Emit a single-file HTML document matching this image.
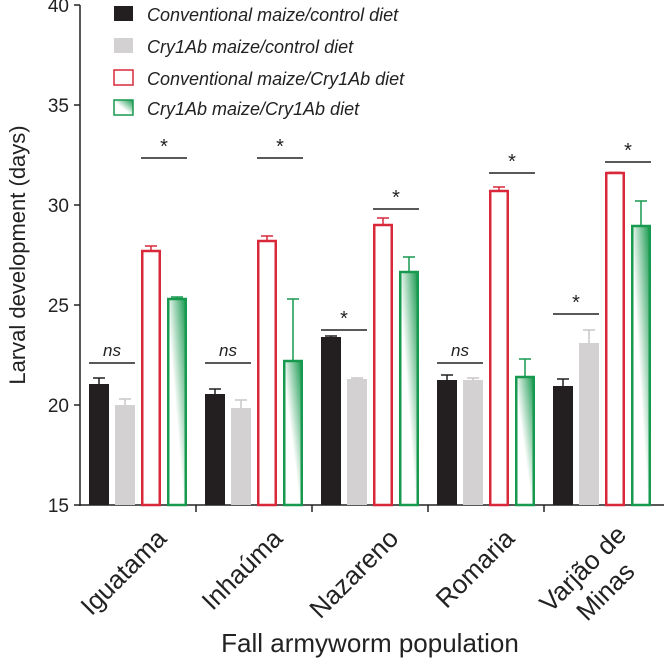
<!DOCTYPE html>
<html><head><meta charset="utf-8"><style>
body{margin:0;background:#fff}
svg{display:block;font-family:"Liberation Sans",sans-serif}
</style></head><body>
<svg id="c" width="668" height="667">
<defs>
<linearGradient id="gg" x1="1" y1="0" x2="0" y2="1">
<stop offset="0" stop-color="#17994f"/><stop offset="0.55" stop-color="#fff"/><stop offset="1" stop-color="#fff"/>
</linearGradient>
</defs>
</svg>
<script>
const categories=["Iguatama","Inhaúma","Nazareno","Romaria","Varjão de Minas"];
const convControl=[21.05,20.55,23.4,21.25,20.95];
const convControlErr=[0.3,0.25,0.05,0.25,0.35];
const btControl=[20.0,19.85,21.3,21.25,23.1];
const btControlErr=[0.3,0.4,0.05,0.1,0.65];
const convBt=[27.7,28.2,29.0,30.7,31.6];
const convBtErr=[0.25,0.25,0.35,0.2,0.03];
const btBt=[25.3,22.2,26.65,21.4,28.95];
const btBtErr=[0.1,3.1,0.75,0.9,1.25];
const sigLabelsA=["ns","ns","*","ns","*"];
const sigLevelA=[22.1,22.1,23.75,22.1,24.55];
const sigLabelsB=["*","*","*","*","*"];
const sigLevelB=[32.35,32.35,29.8,31.6,32.15];
const yTicks=[15,20,25,30,35,40];

const svg=document.getElementById('c');
const NS='http://www.w3.org/2000/svg';
function mk(t,a,p){const e=document.createElementNS(NS,t);for(const k in a)e.setAttribute(k,a[k]);(p||svg).appendChild(e);return e;}
const x0=80,gw=116;
const y=v=>505-(v-15)*20;
const barX=(g,i)=>x0+g*gw+9+i*26;
const bw=20;

let ax=mk('line',{x1:x0,y1:y(40),x2:x0,y2:506,stroke:'#222','stroke-width':1.5});

let bx=mk('line',{x1:x0,y1:505,x2:664,y2:505,stroke:'#222','stroke-width':1.5});

yTicks.forEach(v=>{
  const l=mk('line',{x1:x0-6,y1:y(v),x2:x0,y2:y(v),stroke:'#222','stroke-width':1.5});
  
  const t=mk('text',{x:x0-11,y:y(v)+7,'text-anchor':'end','font-size':19,fill:'#222'});
  t.textContent=v;
});
for(let g=1;g<categories.length;g++){
  const l=mk('line',{x1:x0+g*gw,y1:505,x2:x0+g*gw,y2:512,stroke:'#222','stroke-width':1.5});
  
}
const series=[
 {v:convControl,e:convControlErr,fill:'#231f20',stroke:'none',ec:'#231f20',n:'conv-control'},
 {v:btControl,e:btControlErr,fill:'#d3d1d2',stroke:'none',ec:'#c8c6c7',n:'bt-control'},
 {v:convBt,e:convBtErr,fill:'#fff',stroke:'#d8283a',ec:'#d8283a',n:'conv-bt'},
 {v:btBt,e:btBtErr,fill:'url(#gg)',stroke:'#17994f',ec:'#17994f',n:'bt-bt'}];
categories.forEach((c,g)=>{
  series.forEach((s,i)=>{
    const xx=barX(g,i),top=y(s.v[g]);
    const inset=s.stroke==='none'?0:1.25;
    const r=mk('rect',{x:xx+inset,y:top,width:bw-2*inset,height:505-top,fill:s.fill,stroke:s.stroke,'stroke-width':2.5});
    
    const et=y(s.v[g]+s.e[g]);
    const e1=mk('line',{x1:xx+bw/2,y1:top,x2:xx+bw/2,y2:et,stroke:s.ec,'stroke-width':1.5});
    
    const e2=mk('line',{x1:xx+bw/2-6,y1:et,x2:xx+bw/2+6,y2:et,stroke:s.ec,'stroke-width':1.5});
    
  });
  [[0,sigLevelA,sigLabelsA],[2,sigLevelB,sigLabelsB]].forEach(([i,lv,lb])=>{
    const ly=y(lv[g]);
    const l=mk('line',{x1:barX(g,i),y1:ly,x2:barX(g,i+1)+bw,y2:ly,stroke:'#222','stroke-width':1.5});
    
    const star=lb[g]==='*';
    const t=mk('text',{x:(barX(g,i)+barX(g,i+1)+bw)/2,y:star?ly-5:ly-7,'text-anchor':'middle','font-size':star?20:17,'font-style':star?'normal':'italic',fill:'#222'});
    t.textContent=lb[g];
  });
  const cx=x0+g*gw+gw/2+30, cy=540;
  const t=mk('text',{transform:`translate(${cx},${cy}) rotate(-45)`,'text-anchor':'end','font-size':26,fill:'#222'});
  
  if(c==="Varjão de Minas"){
    t.setAttribute('text-anchor','middle');
    const a=mk('tspan',{x:0,y:0},t);a.textContent="Varjão de";
    const b=mk('tspan',{x:0,dy:32},t);b.textContent="Minas";
    t.setAttribute('transform',`translate(589,575) rotate(-45)`);
  } else t.textContent=c;
});
const xt=mk('text',{x:370,y:652,'text-anchor':'middle','font-size':26,fill:'#222'});
xt.textContent="Fall armyworm population";
const yt=mk('text',{transform:'translate(25,255) rotate(-90)','text-anchor':'middle','font-size':22,fill:'#222'});
yt.textContent="Larval development (days)";
const leg=[["Conventional maize/control diet",'#231f20','none'],["Cry1Ab maize/control diet",'#d3d1d2','none'],["Conventional maize/Cry1Ab diet",'#fff','#d8283a'],["Cry1Ab maize/Cry1Ab diet",'url(#gg)','#17994f']];
const legY=[5,37,69,99];
leg.forEach((l,i)=>{
  const r=mk('rect',{x:114,y:legY[i]+1,width:19,height:15,fill:l[1],stroke:l[2],'stroke-width':1.5});
  
  const t=mk('text',{x:147,y:legY[i]+16,'font-size':18,'font-style':'italic',fill:'#222'});
  t.textContent=l[0];
});
</script>
</body></html>
